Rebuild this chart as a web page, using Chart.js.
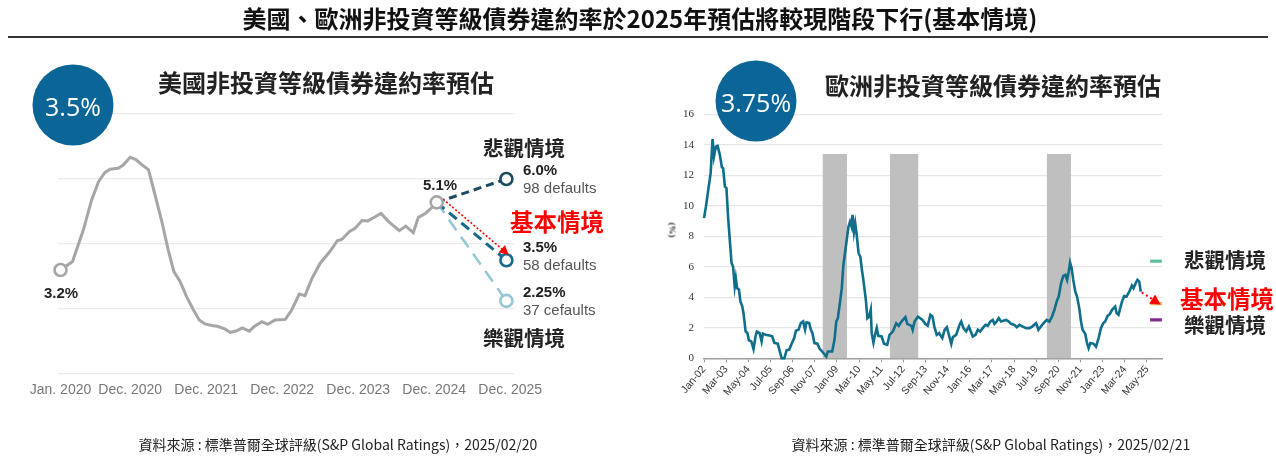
<!DOCTYPE html>
<html><head><meta charset="utf-8">
<script src="https://cdn.jsdelivr.net/npm/chart.js@4.4.1/dist/chart.umd.min.js"></script>
<style>
html,body{margin:0;padding:0;background:#fff;}
#page{position:relative;width:1276px;height:456px;overflow:hidden;font-family:'Noto Sans CJK TC','Noto Sans',sans-serif;}
.t{position:absolute;white-space:nowrap;line-height:1;}
.c{transform:translate(-50%,-50%);}
.l{transform:translate(0,-50%);}
canvas{position:absolute;top:0;}
.num{font-family:'Liberation Sans',Arial,sans-serif;font-weight:700;font-size:15px;color:#222;}
.def{font-family:'Liberation Sans',Arial,sans-serif;font-size:15px;color:#555;}
.scn{font-weight:700;font-size:20.5px;color:#222;}
.red{font-weight:700;font-size:23.5px;color:#ff0000;}
.circle{position:absolute;width:81px;height:81px;border-radius:50%;background:#0b6597;color:#fff;font-family:'Open Sans',sans-serif;font-size:25px;display:flex;align-items:center;justify-content:center;transform:translate(-50%,-50%);}
</style></head><body>
<div id="page">
  <canvas id="us" width="640" height="456" style="left:0"></canvas>
  <canvas id="eu" width="636" height="456" style="left:640px"></canvas>

  <div class="t c" style="left:640px;top:18px;font-size:24px;font-weight:700;color:#111;">美國、歐洲非投資等級債券違約率於2025年預估將較現階段下行(基本情境)</div>
  <div style="position:absolute;left:8px;top:36px;width:1260px;height:1.5px;background:#333;"></div>

  <div class="circle" style="left:73px;top:105px;">3.5%</div>
  <div class="t c" style="left:326px;top:82px;font-size:24px;font-weight:700;color:#222;">美國非投資等級債券違約率預估</div>

  <div class="t c num" style="left:440px;top:184px;">5.1%</div>
  <div class="t c num" style="left:61px;top:292px;">3.2%</div>
  <div class="t l scn" style="left:483px;top:147px;">悲觀情境</div>
  <div class="t l num" style="left:523px;top:169px;">6.0%</div>
  <div class="t l def" style="left:523px;top:187px;">98 defaults</div>
  <div class="t l red" style="left:510px;top:222px;">基本情境</div>
  <div class="t l num" style="left:523px;top:246px;">3.5%</div>
  <div class="t l def" style="left:523px;top:264px;">58 defaults</div>
  <div class="t l num" style="left:523px;top:291px;">2.25%</div>
  <div class="t l def" style="left:523px;top:309px;">37 cefaults</div>
  <div class="t l scn" style="left:483px;top:337px;">樂觀情境</div>

  <div class="circle" style="left:756px;top:101px;">3.75%</div>
  <div class="t c" style="left:993px;top:85px;font-size:24px;font-weight:700;color:#222;">歐洲非投資等級債券違約率預估</div>
  <div class="t c" style="left:672px;top:230px;font-family:'Liberation Serif',serif;font-weight:700;font-size:9px;color:#222;transform:translate(-50%,-50%) rotate(90deg);">(%)</div>
  <div class="t l scn" style="left:1184px;top:259px;">悲觀情境</div>
  <div class="t l red" style="left:1180px;top:299px;">基本情境</div>
  <div class="t l scn" style="left:1184px;top:324px;">樂觀情境</div>

  <div class="t c" style="left:338px;top:444px;font-size:14px;color:#222;">資料來源 : 標準普爾全球評級(S&amp;P Global Ratings)，2025/02/20</div>
  <div class="t c" style="left:991px;top:444px;font-size:14px;color:#222;">資料來源 : 標準普爾全球評級(S&amp;P Global Ratings)，2025/02/21</div>
</div>
<script>
// ---------- US data (month index from Jan 2020) ----------
const usMonths = [0,1.9,3.6,4.9,6,7,7.8,9.1,9.9,11,11.9,12.8,13.9,15.2,16,17,17.9,18.9,19.9,21,21.9,22.8,23.9,24.9,26,26.8,27.8,28.7,29.8,30.7,31.8,32.7,33.9,35.5,36.5,37.7,38.6,39.7,41,42.5,43.7,44.4,45.6,46.5,47.6,48.5,49.7,50.6,51.8,53.5,54.5,55.7,56.5,57.6,58.5,59.4];
const usRate = [3.2,3.46,4.43,5.35,5.92,6.2,6.3,6.33,6.43,6.67,6.6,6.45,6.28,5.3,4.69,3.82,3.15,2.84,2.38,1.97,1.66,1.54,1.49,1.46,1.38,1.28,1.33,1.42,1.32,1.48,1.61,1.53,1.66,1.68,1.97,2.46,2.41,2.94,3.41,3.76,4.1,4.14,4.38,4.48,4.72,4.71,4.84,4.94,4.69,4.41,4.55,4.35,4.82,4.94,5.1,5.28];
const usTickMonths = [0,11,23,35,47,59,71];
const usTickLabels = ['Jan. 2020','Dec. 2020','Dec. 2021','Dec. 2022','Dec. 2023','Dec. 2024','Dec. 2025'];
const usForecastMonth = 70.4;
const usScenarioRate = [6.0, 3.5, 2.25];        // pessimistic, base, optimistic
const usArrowMonths = [60.4, 70.1];
const usArrowRate = [5.38, 3.78];

// ---------- Europe data (month index from Jan 2002) ----------
const euMonths = [0,1.25,2.7,4.2,5.4,6.3,7.5,8.6,10,11.3,12.1,13.2,14.2,15.2,16.3,17.4,18.4,19.4,20.1,20.9,22.1,23,24.2,25.1,26.3,27.4,28.4,29.9,31.3,32.6,33.4,35.1,36.4,37.2,38.9,41.4,43.1,44.5,46.6,47.6,49.1,50.8,52.2,53.9,55.6,57,58.1,59.8,61.2,62.7,63.9,64.8,66.5,67.5,68.5,69.8,71.7,73.2,74.2,77.3,78.3,81,82.5,83.6,84.6,85.6,87.1,88.1,90.2,91.3,92.3,93.3,93.9,94.8,95.6,96.4,97.7,98.8,99.8,100.6,102.3,103.3,104.4,105.4,106,107.1,108.1,109.2,110.2,112.3,113.8,115.8,117.3,119.4,121.5,123.1,124.8,127.3,128.5,131.1,131.9,133.1,135.2,138.1,139.8,141.4,143.1,144.4,145.6,147.1,148.6,150.6,152.1,153.5,154.8,156.3,157.3,159.4,161.5,162.6,164,165.7,167.4,168.9,169.9,171.6,173.1,174.6,176.2,177.9,179.4,180.9,182.5,183.6,185,186.3,187.8,191,192.6,194.1,196.2,197.7,199.4,201.5,203.6,205.7,207.4,209.9,211.4,213.7,216.6,218.3,220,221.5,222.9,224.2,225.7,227.1,228.4,229.5,230.5,231.4,232.4,233.4,234.7,235.8,237.2,238.3,239.3,241,242.1,243.1,244.2,246.3,247.8,249.4,250.9,252.4,253.6,255.1,256.6,257.9,259.9,260.8,262,264.2,265.6,267.1,268.8,270.5,271.5,273,274,275.1,276.1];
const euRate = [9.19,9.96,11.05,12.14,14.37,13.23,13.88,13.93,13.34,12.53,12.47,11.26,11.16,9.3,7.77,6.25,6.0,4.72,5.26,4.61,4.5,3.73,3.41,2.86,1.77,1.66,1.18,1.11,0.61,1.44,1.75,1.66,1.11,1.62,1.55,1.49,1.44,1.01,0.96,0.57,0,0,0.52,0.57,1.0,1.33,1.81,1.88,2.31,2.42,1.88,2.36,2.31,1.88,1.66,1.0,0.96,0.61,0.51,0.12,0.45,0.45,1.21,2.41,2.63,3.39,4.6,6.12,7.76,8.63,8.96,8.63,9.4,8.3,8.85,8.2,6.89,6.67,5.8,5.25,3.83,2.63,2.74,3.18,1.65,1.03,1.54,1.98,1.47,1.43,0.95,0.88,1.54,1.76,2.3,2.13,2.41,2.7,2.26,2.13,1.87,2.41,2.74,2.52,2.26,2.13,2.85,2.74,2.08,1.54,1.65,1.32,1.87,2.04,1.54,0.95,1.39,1.54,2.19,2.41,1.98,1.76,2.08,1.69,1.43,1.54,1.87,1.76,1.98,2.19,2.13,2.41,2.52,2.26,2.41,2.63,2.41,2.52,2.41,2.26,2.19,2.04,2.19,2.08,1.98,1.98,2.08,2.3,1.87,2.19,2.52,2.41,2.74,3.18,3.72,4.05,4.92,5.4,5.47,5.14,5.68,6.27,5.9,5.14,4.37,4.05,3.29,2.41,1.87,1.6,1.0,0.67,1.0,0.95,0.77,1.32,1.98,2.31,2.41,2.78,2.91,3.18,3.39,2.96,2.85,3.72,4.09,4.05,4.37,4.77,4.6,4.96,5.14,5.03,4.37];
const euTickLabels = ['Jan-02','Mar-03','May-04','Jul-05','Sep-06','Nov-07','Jan-09','Mar-10','May-11','Jul-12','Sep-13','Nov-14','Jan-16','Mar-17','May-18','Jul-19','Sep-20','Nov-21','Jan-23','Mar-24','May-25'];
const euTickStep = 14;
const recessionStart = [74.9, 117.4, 216.6];
const recessionEnd = [90.4, 135.6, 232.0];
const recessionTop = 13.4;
const euScenarioRate = [6.37, 3.59, 2.52];       // pessimistic, base, optimistic markers
const euScenarioMonths = [282, 289.4];
const euArrowMonths = [276.7, 285.4];
const euArrowRate = [4.32, 3.74];

// ---------- helpers ----------
const pts = (xs, ys) => xs.map((x, i) => ({x: x, y: ys[i]}));
const arrowPlugin = {
  id: 'arrowHeads',
  afterDatasetsDraw(chart) {
    const ctx = chart.ctx;
    chart.data.datasets.forEach((ds, i) => {
      if (!ds.arrowHead) return;
      const p = chart.getDatasetMeta(i).data;
      const a = p[p.length - 2], b = p[p.length - 1];
      const ang = Math.atan2(b.y - a.y, b.x - a.x);
      const L = ds.arrowHead, W = L * 0.55;
      const tx = b.x + Math.cos(ang) * L * 0.6, ty = b.y + Math.sin(ang) * L * 0.6;
      ctx.save();
      ctx.fillStyle = ds.borderColor;
      ctx.beginPath();
      ctx.moveTo(tx, ty);
      ctx.lineTo(tx - L * Math.cos(ang) + W * Math.sin(ang), ty - L * Math.sin(ang) - W * Math.cos(ang));
      ctx.lineTo(tx - L * Math.cos(ang) - W * Math.sin(ang), ty - L * Math.sin(ang) + W * Math.cos(ang));
      ctx.closePath();
      ctx.fill();
      ctx.restore();
    });
  }
};

Chart.defaults.font.family = "'Liberation Sans', Arial, sans-serif";
Chart.defaults.animation = false;

// ---------- US chart ----------
const usLast = usMonths.length - 1;
const usStart = {x: usMonths[usLast], y: usRate[usLast]};
const scenarioStyle = [
  {color: '#1b4b60', dash: [8, 5], width: 3},
  {color: '#17698a', dash: [10, 6], width: 3},
  {color: '#93c6d6', dash: [13, 8], width: 2.5}
];
const usScenarioSets = usScenarioRate.map((r, k) => ({
  data: [usStart, {x: usForecastMonth, y: r}],
  borderColor: scenarioStyle[k].color,
  borderDash: scenarioStyle[k].dash,
  borderWidth: scenarioStyle[k].width,
  pointRadius: [0, 6],
  pointBorderWidth: 2.6,
  pointBackgroundColor: '#fff',
  pointBorderColor: scenarioStyle[k].color,
  clip: false
}));

new Chart(document.getElementById('us'), {
  type: 'line',
  data: {
    datasets: [
      {
        data: pts(usMonths, usRate),
        borderColor: '#a6a6a6',
        borderWidth: 3,
        pointRadius: ctx => (ctx.dataIndex === 0 || ctx.dataIndex === usLast) ? 6 : 0,
        pointBorderWidth: 2.6,
        pointBackgroundColor: '#fff',
        pointBorderColor: '#a6a6a6',
        clip: false
      },
      {
        data: pts(usArrowMonths, usArrowRate),
        borderColor: '#ff0000',
        borderDash: [2, 2],
        borderWidth: 1.6,
        pointRadius: 0,
        arrowHead: 9,
        clip: false
      },
      ...usScenarioSets
    ]
  },
  options: {
    responsive: false,
    layout: {padding: {left: 57.6, right: 126, top: 114, bottom: 54}},
    plugins: {legend: {display: false}, tooltip: {enabled: false}},
    scales: {
      x: {
        type: 'linear', min: -0.46, max: 71.6,
        grid: {display: false}, border: {display: false},
        afterBuildTicks: s => { s.ticks = usTickMonths.map(v => ({value: v})); },
        afterFit: s => { s.height = 28; },
        ticks: {
          autoSkip: false, maxRotation: 0, padding: 0,
          color: '#777', font: {size: 14},
          callback: (v, i) => usTickLabels[i]
        }
      },
      y: {
        min: 0, max: 8,
        ticks: {display: false, stepSize: 2},
        grid: {color: '#ebebeb', lineWidth: 1.2, drawTicks: false},
        border: {display: false},
        afterFit: s => { s.width = 0; }
      }
    }
  },
  plugins: [arrowPlugin]
});

// ---------- Europe chart ----------
const euMarkColors = ['#5cbfa2', '#f5a95a', '#7a2a88'];
const euMarkerSets = euScenarioRate.map((r, k) => ({
  data: pts(euScenarioMonths, [r, r]),
  borderColor: euMarkColors[k],
  borderWidth: 3.2,
  pointRadius: 0,
  clip: false
}));
const euRecessionSets = recessionStart.map((s, k) => ({
  data: pts([s, recessionEnd[k]], [recessionTop, recessionTop]),
  borderWidth: 0,
  borderColor: 'rgba(0,0,0,0)',
  backgroundColor: '#bfbfbf',
  fill: 'origin',
  pointRadius: 0
}));
const euTickValues = euTickLabels.map((_, i) => i * euTickStep);

new Chart(document.getElementById('eu'), {
  type: 'line',
  data: {
    datasets: [
      {
        data: pts(euMonths, euRate),
        borderColor: '#0f6e8c',
        borderWidth: 2.6,
        pointRadius: 0,
        clip: false
      },
      {
        data: pts(euArrowMonths, euArrowRate),
        borderColor: '#ff0000',
        borderDash: [2, 3],
        borderWidth: 2,
        pointRadius: 0,
        arrowHead: 10,
        clip: false
      },
      ...euMarkerSets,
      ...euRecessionSets
    ]
  },
  options: {
    responsive: false,
    layout: {padding: {left: 34, right: 114, top: 114.3, bottom: 37.7}},
    plugins: {legend: {display: false}, tooltip: {enabled: false}},
    scales: {
      x: {
        type: 'linear', min: 0, max: 289.5,
        grid: {display: true, drawOnChartArea: false, drawTicks: true, tickLength: 4, color: '#999'},
        border: {display: true, color: '#a0a0a0', width: 1.5},
        afterBuildTicks: s => { s.ticks = euTickValues.map(v => ({value: v})); },
        afterFit: s => { s.height = 60; },
        ticks: {
          autoSkip: false, minRotation: 50, maxRotation: 50, padding: 1,
          color: '#333', font: {size: 10.5},
          callback: (v, i) => euTickLabels[i]
        }
      },
      y: {
        min: 0, max: 16,
        ticks: {stepSize: 2, color: '#333', padding: 10, font: {family: "'Liberation Serif', serif", size: 11}},
        grid: {color: '#e6e6e6', lineWidth: 1.3, drawTicks: false},
        border: {display: false},
        afterFit: s => { s.width = 30; }
      }
    }
  },
  plugins: [arrowPlugin]
});
</script>
</body></html>
